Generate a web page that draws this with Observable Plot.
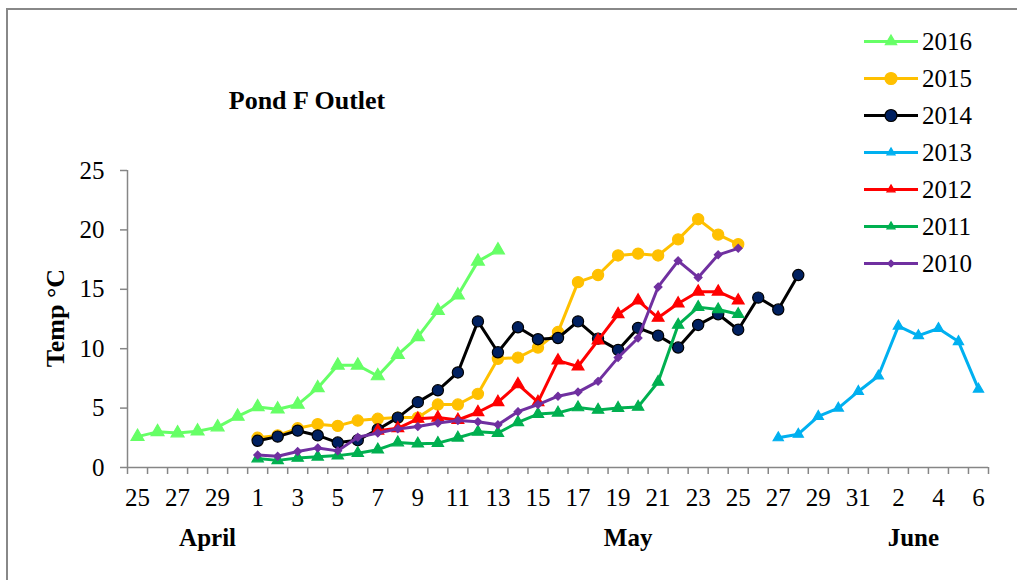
<!DOCTYPE html>
<html><head><meta charset="utf-8">
<script src="https://cdn.jsdelivr.net/npm/d3@7"></script>
<script src="https://cdn.jsdelivr.net/npm/@observablehq/plot@0.6"></script>
<style>
body{margin:0;background:#fff;}
#wrap{position:relative;width:1017px;height:580px;overflow:hidden;font-family:"Liberation Serif","Times New Roman",serif;background:#fff;}
#frame{position:absolute;left:6px;top:8px;width:1200px;height:800px;border-left:2px solid #888;border-top:2px solid #888;}
#wrap svg{position:absolute;left:0;top:0;}
</style></head>
<body><div id="wrap"><div id="frame"></div></div>
<script>
const categories = ["Apr 25","Apr 26","Apr 27","Apr 28","Apr 29","Apr 30",
  "May 1","May 2","May 3","May 4","May 5","May 6","May 7","May 8","May 9","May 10",
  "May 11","May 12","May 13","May 14","May 15","May 16","May 17","May 18","May 19","May 20",
  "May 21","May 22","May 23","May 24","May 25","May 26","May 27","May 28","May 29","May 30","May 31",
  "Jun 1","Jun 2","Jun 3","Jun 4","Jun 5","Jun 6"];
const tickLabels = ["25","27","29","1","3","5","7","9","11","13","15","17","19","21","23","25","27","29","31","2","4","6"];
const yTicks = [0,5,10,15,20,25];
const months = ["April","May","June"];
const monthCenters = [3.5, 24.5, 38.75];

const v2016 = [2.6,3.0,2.9,3.05,3.4,4.3,5.1,4.9,5.3,6.7,8.6,8.6,7.7,9.5,11.0,13.2,14.5,17.35,18.3];
const v2015 = [2.5,2.7,3.3,3.65,3.5,3.95,4.1,4.2,4.2,5.3,5.3,6.2,9.15,9.25,10.1,11.4,15.6,16.2,17.85,18.0,17.85,19.2,20.9,19.6,18.8];
const v2014 = [2.25,2.6,3.1,2.7,2.1,2.3,3.2,4.2,5.5,6.5,8.0,12.3,9.7,11.8,10.8,10.9,12.3,10.85,9.9,11.75,11.1,10.1,12.0,12.9,11.6,14.3,13.3,16.2];
const v2013 = [2.5,2.8,4.3,5.0,6.4,7.7,11.9,11.1,11.7,10.6,6.6];
const v2012 = [3.1,3.3,4.1,4.2,4.0,4.65,5.5,7.0,5.5,9.0,8.5,10.7,12.9,14.05,12.6,13.8,14.8,14.8,14.05];
const v2011 = [0.75,0.6,0.8,0.9,1.0,1.2,1.5,2.1,2.0,2.05,2.5,3.0,2.9,3.8,4.5,4.6,5.05,4.85,5.0,5.1,7.2,12.0,13.5,13.3,12.9];
const v2010 = [1.05,0.95,1.35,1.65,1.4,2.55,2.9,3.25,3.45,3.75,3.95,3.85,3.6,4.7,5.3,6.0,6.35,7.25,9.25,10.9,15.2,17.4,16.0,17.9,18.45];

const series = [
  {name:"2016", start:"Apr 25", values:v2016, color:"#66FF66", symbol:"triangle", r:4.8, fill:"#66FF66", stroke:"#66FF66", lr:4.2},
  {name:"2015", start:"May 1", values:v2015, color:"#FFC000", symbol:"circle", r:5.6, fill:"#FFC000", stroke:"#FFC000", lr:6.0},
  {name:"2014", start:"May 1", values:v2014, color:"#000000", symbol:"circle", r:5.6, fill:"#002060", stroke:"#000000", lr:6.0},
  {name:"2013", start:"May 27", values:v2013, color:"#00B0F0", symbol:"triangle", r:3.8, fill:"#00B0F0", stroke:"#00B0F0", lr:3.0},
  {name:"2012", start:"May 7", values:v2012, color:"#FF0000", symbol:"triangle", r:4.4, fill:"#FF0000", stroke:"#FF0000", lr:3.0},
  {name:"2011", start:"May 1", values:v2011, color:"#00B050", symbol:"triangle", r:4.2, fill:"#00B050", stroke:"#00B050", lr:3.0},
  {name:"2010", start:"May 1", values:v2010, color:"#7030A0", symbol:"diamond2", r:3.5, fill:"#7030A0", stroke:"#7030A0", lr:3.0}
];

const tickIdx = tickLabels.map((_, k) => 2 * k);
const bounds = d3.range(categories.length + 1).map(i => i - 0.5);
const monthRows = months.map((m, k) => ({m, x: monthCenters[k]}));

const marks = [
  Plot.ruleY([0], {stroke:"#868686", strokeWidth:1.5}),
  Plot.ruleX([-0.5], {stroke:"#868686", strokeWidth:1.5}),
  Plot.axisX(bounds, {tickSize:7, stroke:"#868686", strokeWidth:1.5, tickFormat:() => "", label:null}),
  Plot.axisX(tickIdx, {tickSize:0, tickPadding:21, tickFormat:(d) => tickLabels[d/2], fontSize:25, label:null}),
  Plot.axisY(yTicks, {tickSize:7, tickPadding:16, stroke:"#868686", strokeWidth:1.5, fontSize:25, label:null}),
  Plot.text(monthRows, {x:"x", y:() => 0, text:"m", dy:70, lineAnchor:"middle", fontWeight:"bold", fontSize:25})
];
for (const s of series) {
  const i0 = categories.indexOf(s.start);
  const rows = s.values.map((v, k) => ({i: i0 + k, v}));
  marks.push(Plot.line(rows, {x:"i", y:"v", stroke:s.color, strokeWidth:3}));
  marks.push(Plot.dot(rows, {x:"i", y:"v", symbol:s.symbol, r:s.r, fill:s.fill, stroke:s.stroke, strokeWidth:1.2}));
}

const plot = Plot.plot({
  width:1017, height:580,
  marginLeft:127, marginRight:29, marginTop:170, marginBottom:113,
  x:{domain:[-0.5, categories.length - 0.5], axis:null},
  y:{domain:[0,25], axis:null},
  style:{fontFamily:"'Liberation Serif','Times New Roman',serif", color:"#000", background:"transparent", overflow:"visible"},
  marks
});
document.getElementById("wrap").appendChild(plot);

const svg = d3.select("#wrap").append("svg").attr("width",1017).attr("height",580)
  .style("font-family","'Liberation Serif','Times New Roman',serif");
svg.append("text").attr("x",307).attr("y",109).attr("text-anchor","middle")
  .attr("font-weight","bold").attr("font-size",26).text("Pond F Outlet");
svg.append("text").attr("transform","translate(64,318) rotate(-90)").attr("text-anchor","middle")
  .attr("font-weight","bold").attr("font-size",26).text("Temp °C");
const symMap = {triangle:d3.symbolTriangle, circle:d3.symbolCircle, diamond2:d3.symbolDiamond2};
series.forEach((s, k) => {
  const y = 41.5 + k * 37;
  const g = svg.append("g");
  g.append("line").attr("x1",864).attr("x2",918).attr("y1",y).attr("y2",y).attr("stroke",s.color).attr("stroke-width",3);
  g.append("path").attr("d", d3.symbol(symMap[s.symbol], Math.PI * s.lr * s.lr)())
    .attr("transform",`translate(891,${y})`).attr("fill",s.fill).attr("stroke",s.stroke).attr("stroke-width",1.2);
  g.append("text").attr("x",922).attr("y",y).attr("dy","0.34em").attr("font-size",25).text(s.name);
});
</script></body></html>
